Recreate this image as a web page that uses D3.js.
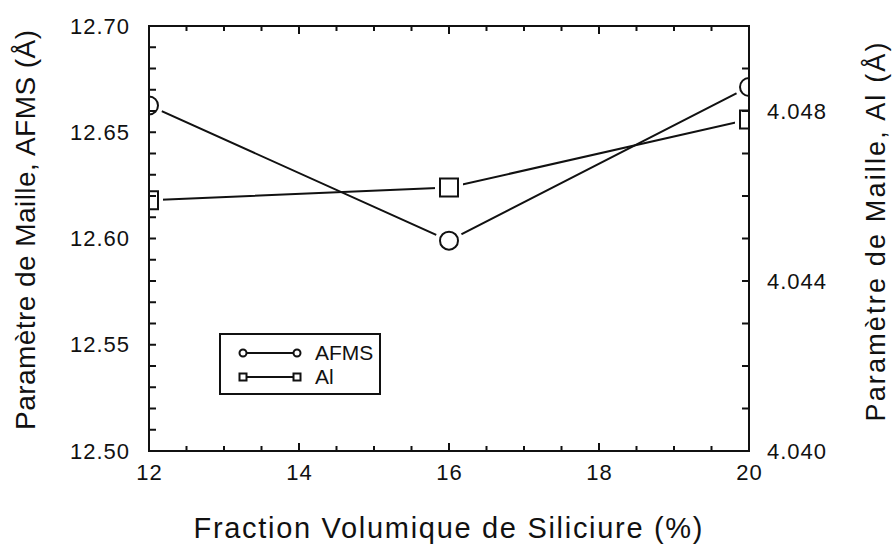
<!DOCTYPE html>
<html>
<head>
<meta charset="utf-8">
<script src="https://cdn.jsdelivr.net/npm/d3@7"></script>
<style>
  body { margin: 0; background: #fff; }
  text { font-family: "Liberation Sans", Arial, sans-serif; fill: #111; }
</style>
</head>
<body>
<div id="chart"></div>
<script>
// values
const fractions = [12, 16, 20]
const afms = [12.6626, 12.599, 12.6713]
const al = [4.0459, 4.0462, 4.0478]
const xLabels = [12, 14, 16, 18, 20]
const leftLabels = [12.50, 12.55, 12.60, 12.65, 12.70]
const rightLabels = [4.040, 4.044, 4.048]
const legendNames = ["AFMS", "Al"]

const width = 893, height = 545
const m = { left: 149, right: 749, top: 26, bottom: 451 }

const x = d3.scaleLinear().domain([12, 20]).range([m.left, m.right])
const yL = d3.scaleLinear().domain([12.50, 12.70]).range([m.bottom, m.top])
const yR = d3.scaleLinear().domain([4.040, 4.050]).range([m.bottom, m.top])

const svg = d3.select("#chart").append("svg")
  .attr("width", width)
  .attr("height", height)

svg.append("clipPath").attr("id", "plot")
  .append("rect")
  .attr("x", m.left).attr("y", m.top)
  .attr("width", m.right - m.left).attr("height", m.bottom - m.top)

const plot = svg.append("g").attr("clip-path", "url(#plot)")

let series = [
  { name: "AFMS", y: yL, vals: afms, shape: "circle" },
  { name: "Al", y: yR, vals: al, shape: "square" }
]

let line = s => d3.line().x((d, i) => x(fractions[i])).y(d => s.y(d))

series.forEach(s => {
  plot.append("path")
    .attr("d", line(s)(s.vals))
    .attr("fill", "none")
    .attr("stroke", "#111")
    .attr("stroke-width", 2)
})

function marker(g, shape, cx, cy, r, halo) {
  if (shape == "circle") {
    g.append("circle").attr("cx", cx).attr("cy", cy).attr("r", r)
      .attr("fill", "#fff").attr("stroke", halo ? "#fff" : "#111")
      .attr("stroke-width", halo ? 10 : 2)
  } else {
    g.append("rect").attr("x", cx - r).attr("y", cy - r)
      .attr("width", 2 * r).attr("height", 2 * r)
      .attr("fill", "#fff").attr("stroke", halo ? "#fff" : "#111")
      .attr("stroke-width", halo ? 10 : 2)
  }
}

series.forEach(s => s.vals.forEach((v, i) =>
  marker(plot, s.shape, x(fractions[i]), s.y(v), 9, true)))
series.forEach(s => s.vals.forEach((v, i) =>
  marker(plot, s.shape, x(fractions[i]), s.y(v), 9, false)))

// tick marks, all pointing inward
let xMinor = d3.range(12.5, 20, 0.5).filter(v => v % 2 != 0)
let xMajor = [14, 16, 18]
let yLMinor = d3.range(1, 20).map(i => 12.50 + i * 0.01)
let yRMinor = d3.range(1, 10).map(i => 4.040 + i * 0.001)

let tk = svg.append("g").attr("stroke", "#111").attr("stroke-width", 2)
function xTicks(vals, len) {
  vals.forEach(v => {
    tk.append("line").attr("x1", x(v)).attr("x2", x(v)).attr("y1", m.bottom).attr("y2", m.bottom - len)
    tk.append("line").attr("x1", x(v)).attr("x2", x(v)).attr("y1", m.top).attr("y2", m.top + len)
  })
}
xTicks(xMinor, 5)
xTicks(xMajor, 8)
yLMinor.forEach(v => tk.append("line")
  .attr("x1", m.left).attr("x2", m.left + 7).attr("y1", yL(v)).attr("y2", yL(v)))
yRMinor.forEach(v => tk.append("line")
  .attr("x1", m.right).attr("x2", m.right - 7).attr("y1", yR(v)).attr("y2", yR(v)))

// frame
svg.append("rect")
  .attr("x", m.left).attr("y", m.top)
  .attr("width", m.right - m.left).attr("height", m.bottom - m.top)
  .attr("fill", "none").attr("stroke", "#111").attr("stroke-width", 2)

// tick labels
function labels(axis, tr, vals, fmt) {
  svg.append("g")
    .attr("transform", tr)
    .call(axis.tickValues(vals).tickSize(0).tickFormat(fmt))
    .call(g => g.select(".domain").remove())
    .call(g => g.selectAll("text")
      .attr("font-size", 22).attr("letter-spacing", 1)
      .attr("font-family", '"Liberation Sans", Arial, sans-serif').attr("fill", "#111"))
}
labels(d3.axisBottom(x).tickPadding(13), `translate(0,${m.bottom})`, xLabels, d3.format("d"))
labels(d3.axisLeft(yL).tickPadding(19), `translate(${m.left},0)`, leftLabels, d3.format(".2f"))
labels(d3.axisRight(yR).tickPadding(18), `translate(${m.right},0)`, rightLabels, d3.format(".3f"))

// axis titles
svg.append("text")
  .attr("x", 448).attr("y", 538)
  .attr("text-anchor", "middle")
  .attr("font-size", 29)
  .attr("textLength", 509).attr("lengthAdjust", "spacing")
  .text("Fraction Volumique de Siliciure (%)")

svg.append("text")
  .attr("transform", "translate(35,230) rotate(-90)")
  .attr("text-anchor", "middle")
  .attr("font-size", 28)
  .attr("textLength", 400).attr("lengthAdjust", "spacing")
  .text("Paramètre de Maille, AFMS (Å)")

svg.append("text")
  .attr("transform", "translate(885,232) rotate(-90)")
  .attr("text-anchor", "middle")
  .attr("font-size", 27)
  .attr("textLength", 379).attr("lengthAdjust", "spacing")
  .text("Paramètre de Maille, Al (Å)")

// legend
let lg = svg.append("g")
lg.append("rect")
  .attr("x", 220).attr("y", 334).attr("width", 160).attr("height", 60)
  .attr("fill", "#fff").attr("stroke", "#111").attr("stroke-width", 2)

legendNames.forEach((name, i) => {
  let ly = 353 + i * 24
  let s = series[i]
  lg.append("line")
    .attr("x1", 243).attr("x2", 297).attr("y1", ly).attr("y2", ly)
    .attr("stroke", "#111").attr("stroke-width", 2)
  marker(lg, s.shape, 243, ly, 3.5, false)
  marker(lg, s.shape, 297, ly, 3.5, false)
  lg.append("text")
    .attr("x", 315).attr("y", ly + 7)
    .attr("font-size", 21)
    .text(name)
})
</script>
</body>
</html>
